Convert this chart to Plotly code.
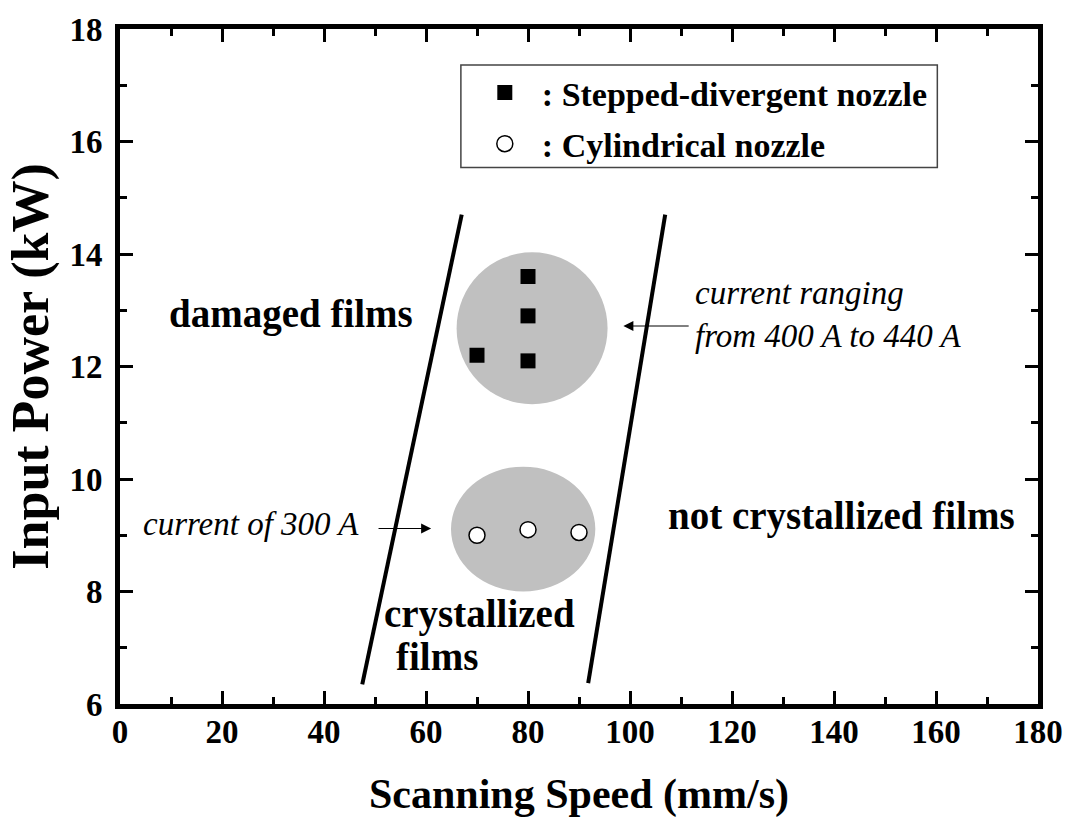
import plotly.graph_objects as go

# Measured operating points
stepped_speed = [80, 80, 70, 80]
stepped_power = [13.6, 12.9, 12.2, 12.1]
cyl_speed = [70, 80, 90]
cyl_power = [9.0, 9.1, 9.05]

x_ticks = [0, 20, 40, 60, 80, 100, 120, 140, 160, 180]
y_ticks = [6, 8, 10, 12, 14, 16, 18]

FONT = "Liberation Serif"
NB = "\u00a0"

fig = go.Figure()

fig.add_trace(go.Scatter(
    x=stepped_speed, y=stepped_power, mode="markers",
    name=NB * 2 + ": Stepped-divergent nozzle", legendgroup="a",
    marker=dict(symbol="square", size=15, color="black"),
))
fig.add_trace(go.Scatter(
    x=cyl_speed, y=cyl_power, mode="markers",
    name=NB * 2 + ": Cylindrical nozzle", legendgroup="b",
    marker=dict(symbol="circle", size=16, color="white",
                line=dict(color="black", width=1.5)),
))

# Shaded clusters behind the points
fig.add_shape(type="circle", xref="x", yref="y", x0=66.0, x1=95.6, y0=11.33, y1=14.03,
              fillcolor="#c0c0c0", line=dict(width=0), layer="below")
fig.add_shape(type="circle", xref="x", yref="y", x0=64.9, x1=93.2, y0=8.0, y1=10.22,
              fillcolor="#c0c0c0", line=dict(width=0), layer="below")

# Boundaries of the crystallization window
fig.add_shape(type="line", xref="x", yref="y", x0=47.5, y0=6.35, x1=67.0, y1=14.7,
              line=dict(color="black", width=4))
fig.add_shape(type="line", xref="x", yref="y", x0=91.8, y0=6.37, x1=106.9, y1=14.7,
              line=dict(color="black", width=4))

# Legend frame
fig.add_shape(type="rect", xref="paper", yref="paper",
              x0=(462 - 120) / 921, x1=(940 - 120) / 921,
              y0=(704 - 166) / 677, y1=(704 - 63) / 677,
              line=dict(color="#444444", width=1.5), fillcolor="rgba(0,0,0,0)")

bold = dict(family=FONT, size=39, color="black", weight="bold")
ital = dict(family=FONT, size=33, color="black", style="italic")

fig.add_annotation(x=33.6, y=12.93, xref="x", yref="y", text="damaged films",
                   showarrow=False, font=bold)
fig.add_annotation(x=70.5, y=7.6, xref="x", yref="y", text="crystallized",
                   showarrow=False, font=bold)
fig.add_annotation(x=62.2, y=6.84, xref="x", yref="y", text="films",
                   showarrow=False, font=bold)
fig.add_annotation(x=141.5, y=9.35, xref="x", yref="y", text="not crystallized films",
                   showarrow=False, font=bold)

fig.add_annotation(x=98.7, y=12.72, xref="x", yref="y", ax=111.8, ay=12.72, axref="x", ayref="y",
                   showarrow=True, arrowhead=2, arrowsize=2, arrowwidth=1, arrowcolor="black",
                   text="")
fig.add_annotation(x=112.4, y=12.93, xref="x", yref="y", xanchor="left",
                   text="current ranging<br>from 400 A to 440 A",
                   showarrow=False, font=ital, align="left")
fig.add_annotation(x=61.0, y=9.12, xref="x", yref="y", ax=50.4, ay=9.12, axref="x", ayref="y",
                   showarrow=True, arrowhead=2, arrowsize=2, arrowwidth=1, arrowcolor="black",
                   text="")
fig.add_annotation(x=25.6, y=9.2, xref="x", yref="y",
                   text="current of 300 A",
                   showarrow=False, font=ital)

axis_common = dict(
    showline=True, linewidth=5, linecolor="black", mirror="ticks",
    ticks="inside", ticklen=13, tickwidth=3, tickcolor="black",
    showgrid=False, zeroline=False,
    tickfont=dict(family=FONT, size=33, color="black", weight="bold"),
)

fig.update_xaxes(
    range=[0, 180], tickvals=x_ticks, ticktext=[str(v) for v in x_ticks],
    minor=dict(dtick=10, ticks="inside", ticklen=7, tickwidth=3, tickcolor="black"),
    title=dict(text="Scanning Speed (mm/s)",
               font=dict(family=FONT, size=42, color="black", weight="bold"),
               standoff=32),
    ticklabelstandoff=-6,
    **axis_common,
)
fig.update_yaxes(
    range=[6, 18], tickvals=y_ticks, ticktext=[str(v) for v in y_ticks],
    minor=dict(dtick=1, ticks="inside", ticklen=7, tickwidth=3, tickcolor="black"),
    title=dict(text="Input Power (kW)",
               font=dict(family=FONT, size=52, color="black", weight="bold"),
               standoff=6),
    ticklabelstandoff=6,
    **axis_common,
)

fig.update_layout(
    width=1075, height=830,
    margin=dict(l=120, r=34, t=27, b=126),
    plot_bgcolor="white", paper_bgcolor="white",
    showlegend=True,
    legend=dict(x=(486 - 120) / 921, y=(704 - 62) / 677, xanchor="left", yanchor="top",
                borderwidth=0, bgcolor="rgba(0,0,0,0)",
                font=dict(family=FONT, size=34, color="black", weight="bold"),
                itemwidth=30, traceorder="grouped", tracegroupgap=4),
)

fig.write_html("out.html")
